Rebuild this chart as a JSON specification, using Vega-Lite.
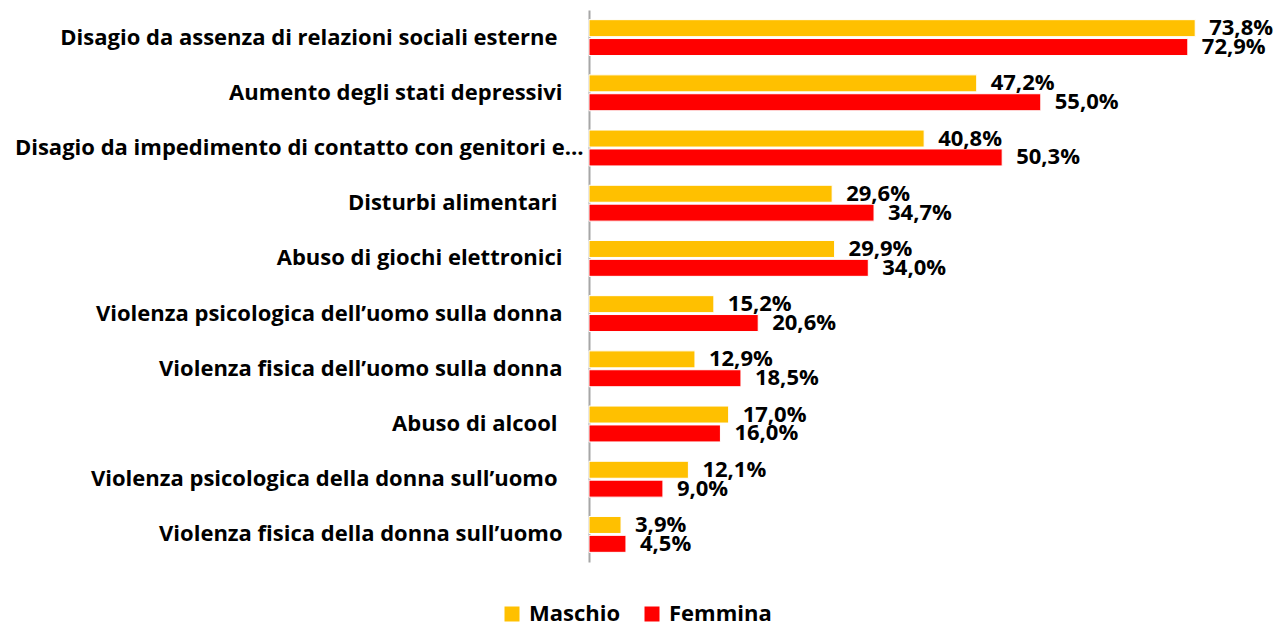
{
  "$schema": "https://vega.github.io/schema/vega-lite/v6.json",
  "autosize": "none",
  "width": 690,
  "height": 552,
  "padding": {"left": 589, "top": 10, "right": 0, "bottom": 64},
  "background": "white",
  "config": {
    "view": {"stroke": null},
    "font": "Open Sans",
    "locale": {"number": {"decimal": ",", "thousands": ".", "grouping": [3], "currency": ["€", ""]}}
  },
  "data": {
    "values": [
      {"voce": "Disagio da assenza di relazioni sociali esterne", "sesso": "Maschio", "valore": 0.738},
      {"voce": "Disagio da assenza di relazioni sociali esterne", "sesso": "Femmina", "valore": 0.729},
      {"voce": "Aumento degli stati depressivi", "sesso": "Maschio", "valore": 0.472},
      {"voce": "Aumento degli stati depressivi", "sesso": "Femmina", "valore": 0.550},
      {"voce": "Disagio da impedimento di contatto con genitori e…", "sesso": "Maschio", "valore": 0.408},
      {"voce": "Disagio da impedimento di contatto con genitori e…", "sesso": "Femmina", "valore": 0.503},
      {"voce": "Disturbi alimentari", "sesso": "Maschio", "valore": 0.296},
      {"voce": "Disturbi alimentari", "sesso": "Femmina", "valore": 0.347},
      {"voce": "Abuso di giochi elettronici", "sesso": "Maschio", "valore": 0.299},
      {"voce": "Abuso di giochi elettronici", "sesso": "Femmina", "valore": 0.340},
      {"voce": "Violenza psicologica dell’uomo sulla donna", "sesso": "Maschio", "valore": 0.152},
      {"voce": "Violenza psicologica dell’uomo sulla donna", "sesso": "Femmina", "valore": 0.206},
      {"voce": "Violenza fisica dell’uomo sulla donna", "sesso": "Maschio", "valore": 0.129},
      {"voce": "Violenza fisica dell’uomo sulla donna", "sesso": "Femmina", "valore": 0.185},
      {"voce": "Abuso di alcool", "sesso": "Maschio", "valore": 0.170},
      {"voce": "Abuso di alcool", "sesso": "Femmina", "valore": 0.160},
      {"voce": "Violenza psicologica della donna sull’uomo", "sesso": "Maschio", "valore": 0.121},
      {"voce": "Violenza psicologica della donna sull’uomo", "sesso": "Femmina", "valore": 0.090},
      {"voce": "Violenza fisica della donna sull’uomo", "sesso": "Maschio", "valore": 0.039},
      {"voce": "Violenza fisica della donna sull’uomo", "sesso": "Femmina", "valore": 0.045}
    ]
  },
  "encoding": {
    "y": {
      "field": "voce", "type": "nominal", "sort": null,
      "scale": {"paddingInner": 0.35, "paddingOuter": 0.175},
      "axis": {
        "title": null, "ticks": false, "domainColor": "#A6A6A6", "domainWidth": 2,
        "labelFontSize": 22, "labelFontWeight": "bold", "labelColor": "#000000",
        "labelLimit": 0,
        "labelPadding": {
          "condition": [
            {"test": "indexof(datum.label, '…') >= 0", "value": 6},
            {"test": "indexof(['Disagio da assenza di relazioni sociali esterne','Disturbi alimentari','Abuso di alcool','Violenza psicologica della donna sull’uomo'], datum.label) >= 0", "value": 32}
          ],
          "value": 27
        }
      }
    },
    "x": {
      "field": "valore", "type": "quantitative",
      "scale": {"domain": [0, 0.84], "nice": false},
      "axis": null
    },
    "yOffset": {
      "field": "sesso", "type": "nominal",
      "scale": {"domain": ["Maschio", "Femmina"], "paddingInner": 0.1}
    }
  },
  "layer": [
    {
      "mark": {"type": "bar", "stroke": "white", "strokeWidth": 1},
      "encoding": {
        "color": {
          "field": "sesso", "type": "nominal",
          "scale": {"domain": ["Maschio", "Femmina"], "range": ["#FFC000", "#FF0000"]},
          "legend": {
            "title": null, "orient": "none", "direction": "horizontal",
            "legendX": -88, "legendY": 593,
            "symbolType": "square", "symbolSize": 225, "symbolStrokeWidth": 0,
            "labelFontSize": 22, "labelFontWeight": "bold", "labelColor": "#000000",
            "columnPadding": 20, "labelOffset": 6
          }
        }
      }
    },
    {
      "mark": {"type": "text", "align": "left", "baseline": "middle", "dx": 14, "fontSize": 22, "fontWeight": "bold", "color": "#000000"},
      "encoding": {
        "text": {"field": "valore", "type": "quantitative", "format": ".1%"}
      }
    }
  ]
}
